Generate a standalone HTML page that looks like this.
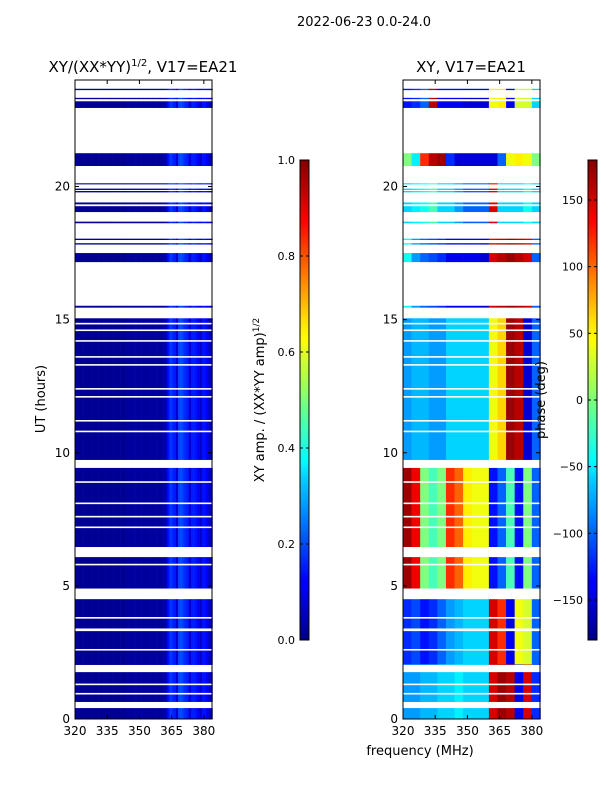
<!DOCTYPE html>
<html><head><meta charset="utf-8"><style>
body{margin:0;background:#fff;}
svg{display:block;font-family:"DejaVu Sans","Liberation Sans",sans-serif;}
</style></head><body>
<svg id="fig" width="600" height="800" viewBox="0 0 600 800">
<defs>
<linearGradient id="jet" x1="0" y1="1" x2="0" y2="0">
<stop offset="0" stop-color="#000080"/><stop offset="0.11" stop-color="#0000ff"/>
<stop offset="0.125" stop-color="#0000ff"/><stop offset="0.34" stop-color="#00d4ff"/>
<stop offset="0.375" stop-color="#00ffff"/><stop offset="0.5" stop-color="#7dff7a"/>
<stop offset="0.625" stop-color="#ffff00"/><stop offset="0.66" stop-color="#ffe600"/>
<stop offset="0.875" stop-color="#ff0000"/><stop offset="1" stop-color="#800000"/>
</linearGradient>
</defs>
<text x="364" y="26" font-size="13" text-anchor="middle">2022-06-23 0.0-24.0</text>
<g id="amp"></g><g id="pha"></g>
</svg>
<script>
// ---- data ----
const validIntervals = [[0,0.41],[0.64,1.76],[2.03,3.3],[3.4,4.5],[4.9,6.08],[6.46,9.43],[9.73,15.05],
 [15.45,15.52],[17.16,17.5],[17.82,17.87],[17.99,18.04],[18.62,18.68],[19.04,19.26],[19.33,19.4],
 [19.78,19.83],[19.87,19.92],[20.08,20.12],[20.77,21.25],[22.95,23.2],[23.28,23.33],[23.62,23.67]];
const flaggedLines = [0.95,1.3,2.6,3.8,5.8,7.2,7.6,8.1,8.9,10.8,11.2,12.1,12.4,13.3,13.6,14.2,14.6,14.85];
const ampFreqs = [];
for (let f=320; f<384; f++) ampFreqs.push(f);
const ampValues = [0.02,0.02,0.02,0.02,0.02,0.02,0.02,0.02,0.02,0.02,0.02,0.02,0.02,0.02,0.02,0.02,
 0.02,0.02,0.02,0.02,0.02,0.02,0.02,0.02,0.03,0.03,0.03,0.03,0.03,0.03,0.03,0.03,
 0.03,0.03,0.03,0.03,0.03,0.03,0.03,0.03,0.03,0.04,0.06,0.14,0.18,0.16,0.15,0.08,
 0.19,0.2,0.18,0.16,0.15,0.08,0.15,0.15,0.14,0.12,0.07,0.14,0.14,0.12,0.07,0.06];
const phaseBins = [320,324,328,332,336,340,344,348,352,356,360,364,368,372,376,380];
const phaseTimes = [[0,2.05],[2.05,4.7],[4.7,9.6],[9.6,15.3],[15.3,18.5],[18.5,20.5],[20.5,22],[22,24]];
const phaseProfiles = [
 [-80,-80,-70,-70,-60,-60,-50,-60,-60,-60,150,170,160,-140,150,-120],
 [-120,-110,-130,-120,-100,-80,-70,-60,-60,-60,150,120,-140,40,30,-100],
 [170,140,0,-20,0,120,100,50,40,40,-130,-100,-20,-130,0,-100],
 [-80,-70,-70,-80,-80,-60,-60,-60,-60,-60,40,60,170,160,-150,-100],
 [-40,-80,-100,-110,-120,-140,-140,-140,-140,-150,150,160,170,160,150,-100],
 [-60,-50,-40,-20,-60,-60,-80,-100,-100,-100,150,-60,-60,-60,-40,-60],
 [0,-50,120,160,170,-120,-150,-150,-150,-150,-150,-100,40,50,40,0],
 [-130,-120,-100,160,-140,-140,-140,-150,-150,-150,40,50,-140,30,30,-60]];
const xTicks = [320,335,350,365,380];
const yTicks = [0,5,10,15,20];
const ampTicks = [0.0,0.2,0.4,0.6,0.8,1.0];
const phaseTicks = [-150,-100,-50,0,50,100,150];

// ---- helpers ----
const NS="http://www.w3.org/2000/svg";
const svg=document.getElementById('fig');
function mk(tag,attrs,parent){const e=document.createElementNS(NS,tag);for(const k in attrs)e.setAttribute(k,attrs[k]);(parent||svg).appendChild(e);return e;}
function jet(v){v=Math.max(0,Math.min(1,v));
 const r=Math.max(0,Math.min(1,1.5-Math.abs(4*v-3))),g=Math.max(0,Math.min(1,1.5-Math.abs(4*v-2))),b=Math.max(0,Math.min(1,1.5-Math.abs(4*v-1)));
 return `rgb(${Math.round(r*255)},${Math.round(g*255)},${Math.round(b*255)})`;}
const Y0=719,Y1=80,TMAX=24;
function yS(h){return Y0-(h/TMAX)*(Y0-Y1);}
function makeX(x0){return f=>x0+(f-320)*(137/63.8);}

function panel(x0,title,kind){
  const xS=makeX(x0),x1=x0+137;
  const g=mk('g',{});
  
  
  validIntervals.forEach(iv=>{
    const ya=yS(iv[1]),yb=yS(iv[0]);
    if(kind==='amp'){
      ampFreqs.forEach((f,i)=>{
        const r=mk('rect',{x:xS(f),y:ya,width:xS(f+1)-xS(f)+0.3,height:yb-ya,fill:jet(ampValues[i])},g);
        
        
      });
    } else {
      phaseTimes.forEach((pt,si)=>{
        const a=Math.max(iv[0],pt[0]),b=Math.min(iv[1],pt[1]);
        if(b<=a)return;
        phaseBins.forEach((f,i)=>{
          const r=mk('rect',{x:xS(f),y:yS(b),width:xS(f+4)-xS(f)+0.3,height:yS(a)-yS(b),fill:jet((phaseProfiles[si][i]+180)/360)},g);
          
          
        });
      });
    }
  });
  flaggedLines.forEach(h=>{
    const r=mk('rect',{x:x0,y:yS(h)-0.8,width:137,height:1.6,fill:'#fff'},g);
    
    
  });
  const fr=mk('rect',{x:x0,y:Y1,width:137,height:Y0-Y1,fill:'none',stroke:'#000','stroke-width':1});
  
  
  xTicks.forEach(t=>{
    const x=xS(t);
    mk('line',{x1:x,x2:x,y1:Y0,y2:Y0-4,stroke:'#000'});
    mk('line',{x1:x,x2:x,y1:Y1,y2:Y1+4,stroke:'#000'});
    const tx=mk('text',{x:x,y:Y0+16,'font-size':12,'text-anchor':'middle'});tx.textContent=t;
    
    
  });
  yTicks.forEach(t=>{
    const y=yS(t);
    mk('line',{x1:x0,x2:x0+4,y1:y,y2:y,stroke:'#000'});
    mk('line',{x1:x1,x2:x1-4,y1:y,y2:y,stroke:'#000'});
    const tx=mk('text',{x:x0-5,y:y+4,'font-size':12,'text-anchor':'end'});tx.textContent=t;
    
    
  });
  const tt=mk('text',{x:x0+68,y:72,'font-size':15,'text-anchor':'middle'});
  tt.innerHTML=title;
  
  
}
panel(75,'XY/(XX*YY)<tspan font-size="10" dy="-6">1/2</tspan><tspan dy="6">, V17=EA21</tspan>','amp');
panel(403,'XY, V17=EA21','phase');

function cbar(x,ticks,vmin,vmax,name,fmt){
  const r=mk('rect',{x:x,y:160,width:9,height:480,fill:'url(#jet)',stroke:'#000','stroke-width':1});
  
  
  ticks.forEach(t=>{
    const y=640-(t-vmin)/(vmax-vmin)*480;
    mk('line',{x1:x,x2:x+3,y1:y,y2:y,stroke:'#000'});
    mk('line',{x1:x+9,x2:x+6,y1:y,y2:y,stroke:'#000'});
    const tx=mk('text',{x:x-5,y:y+4,'font-size':11,'text-anchor':'end'});tx.textContent=fmt(t);
    
    
  });
}
cbar(300,ampTicks,0,1,'amp-colorbar',t=>t.toFixed(1));
cbar(588,phaseTicks,-180,180,'phase-colorbar',t=>t<0?'\u2212'+(-t):''+t);

function rotLabel(x,y,html,name){
  const t=mk('text',{x:x,y:y,'font-size':13,'text-anchor':'middle',transform:`rotate(-90 ${x} ${y})`});
  t.innerHTML=html;
  
  
}
rotLabel(45,399,'UT (hours)','y-axis-title');
rotLabel(264,400,'XY amp. / (XX*YY amp)<tspan font-size="9" dy="-5">1/2</tspan>','amp-colorbar-label');
rotLabel(545,400,'phase (deg)','phase-colorbar-label');
const xl=mk('text',{x:420,y:755,'font-size':13,'text-anchor':'middle'});xl.textContent='frequency (MHz)';


</script>
</body></html>
